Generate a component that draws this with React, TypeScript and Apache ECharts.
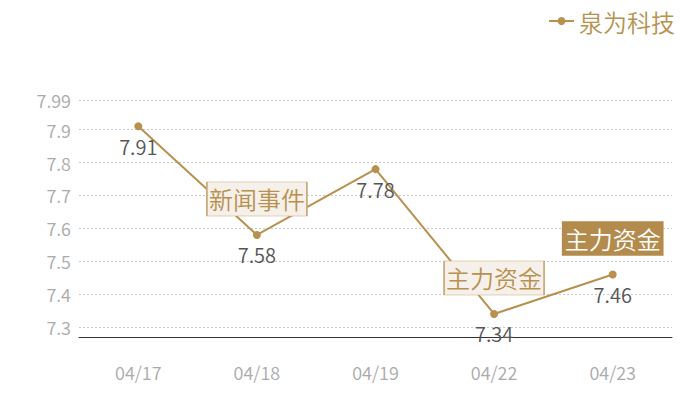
import React, { useEffect, useRef } from "react";
import * as echarts from "echarts";

const categories = ["04/17", "04/18", "04/19", "04/22", "04/23"];
const prices = [7.91, 7.58, 7.78, 7.34, 7.46];
const seriesName = "泉为科技";
// annotation boxes: [category index, text, dark?]
const events: [number, string, boolean][] = [
  [1, "新闻事件", false],
  [3, "主力资金", false],
  [4, "主力资金", true],
];
const yMin = 7.27;
const yMax = 7.99;

const GOLD = "#b8914f";
const FONT = "'Noto Sans CJK SC', 'Noto Sans', sans-serif";
const W = 350;

export default function App() {
  const ref = useRef<HTMLDivElement | null>(null);

  useEffect(() => {
    const chart = echarts.init(ref.current!, undefined, { renderer: "svg" });
    chart.setOption({
      animation: false,
      backgroundColor: "#fff",
      textStyle: { fontFamily: FONT, fontWeight: W },
      legend: {
        data: [seriesName],
        right: 20,
        top: 4,
        itemWidth: 25,
        itemHeight: 10,
        itemGap: 6,
        textStyle: { color: GOLD, fontSize: 24, fontFamily: FONT, fontWeight: W },
      },
      grid: { left: 79, right: 28, top: 100, bottom: 63 },
      xAxis: {
        type: "category",
        data: categories,
        axisTick: { show: false },
        axisLine: { lineStyle: { color: "#333", width: 1 } },
        axisLabel: { color: "#aaa", fontSize: 18, margin: 26, fontFamily: FONT, fontWeight: W },
      },
      yAxis: {
        type: "value",
        min: yMin,
        max: yMax,
        axisLine: { show: false },
        axisTick: { show: false },
        axisLabel: { color: "#aaa", fontSize: 18, margin: 8, fontFamily: FONT, fontWeight: W },
        splitLine: { lineStyle: { color: "#c8c8c8", type: [2, 2] } },
      },
      series: [
        {
          name: seriesName,
          type: "line",
          data: prices,
          symbol: "circle",
          symbolSize: 8,
          itemStyle: { color: GOLD },
          lineStyle: { color: GOLD, width: 2 },
          label: {
            show: true,
            position: "bottom",
            distance: 6,
            color: "#555",
            fontSize: 20,
            fontFamily: FONT,
            fontWeight: W,
          },
          markPoint: {
            symbol: "rect",
            symbolSize: [100, 34],
            symbolOffset: [0, -36],
            data: events.map(([i, text, dark]) => ({
              coord: [i, prices[i]],
              value: text,
              itemStyle: {
                color: dark ? "#b38b4d" : "#f5f0ea",
                borderColor: dark ? "#b38b4d" : "#c9a978",
                borderWidth: 1,
              },
              label: {
                show: true,
                position: "inside",
                formatter: text,
                color: dark ? "#fff" : GOLD,
                fontSize: 24,
                fontFamily: FONT,
                fontWeight: W,
              },
            })),
          },
        },
      ],
    });
    return () => chart.dispose();
  }, []);

  return <div ref={ref} style={{ width: 700, height: 400, position: "absolute", left: 0, top: 0 }} />;
}
